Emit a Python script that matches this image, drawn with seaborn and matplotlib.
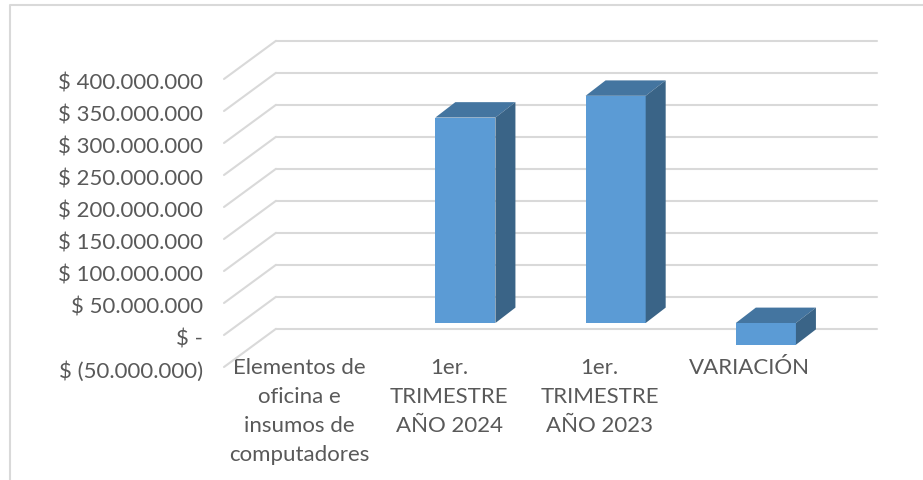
import numpy as np
import pandas as pd
import matplotlib
matplotlib.use("Agg")
import matplotlib.pyplot as plt
from matplotlib.patches import Polygon
from matplotlib.lines import Line2D
from matplotlib.transforms import Affine2D, IdentityTransform
import seaborn as sns

# Spending per category, in pesos
categories = ["Elementos de\noficina e\ninsumos de\ncomputadores",
              "1er.\nTRIMESTRE\nAÑO 2024",
              "1er.\nTRIMESTRE\nAÑO 2023",
              "VARIACIÓN"]
values = [np.nan, 321_000_000, 355_000_000, -34_000_000]
tick_values = [-50_000_000, 0, 50_000_000, 100_000_000, 150_000_000,
               200_000_000, 250_000_000, 300_000_000, 350_000_000, 400_000_000]
tick_labels = ["$ (50.000.000)", "$ -", "$ 50.000.000", "$ 100.000.000", "$ 150.000.000",
               "$ 200.000.000", "$ 250.000.000", "$ 300.000.000", "$ 350.000.000", "$ 400.000.000"]

W, H = 923, 481
GRID = "#D9D9D9"
TEXT = "#595959"
FRONT = "#5B9BD5"
TOP = "#4475A0"
SIDE = "#3A6487"
FONT_SIZE = 16

sns.set_theme(style="white")
plt.rcParams["font.family"] = ["Lato", "DejaVu Sans"]

fig = plt.figure(figsize=(W / 100, H / 100), dpi=100, facecolor="white")
# axes rectangle is the front plane of the 3D box, in pixels from the top-left corner
L, R, T, B = 224, 825, 80, 368
ax = fig.add_axes([L / W, 1 - B / H, (R - L) / W, (B - T) / H])
ax.patch.set_alpha(0)

data = pd.DataFrame({"categoria": categories, "valor": values})
sns.barplot(data=data, x="categoria", y="valor", order=categories, color=FRONT,
            saturation=1, width=0.4, linewidth=0, ax=ax, zorder=3)
ax.set_xlim(-0.5, 3.5)
ax.set_ylim(-50_000_000, 400_000_000)
ax.set_xlabel("")
ax.set_ylabel("")
sns.despine(ax=ax, left=True, bottom=True)

ax.set_yticks(tick_values, tick_labels)
ax.tick_params(axis="y", length=0, pad=15, labelsize=FONT_SIZE, labelcolor=TEXT)
ax.tick_params(axis="x", length=0, pad=-7.5, labelsize=FONT_SIZE, labelcolor=TEXT)
for lab in ax.get_xticklabels():
    lab.set_linespacing(1.57)
# nudge the value labels slightly below their gridline ends
for lab in ax.get_yticklabels():
    lab.set_transform(lab.get_transform() + Affine2D().translate(0, -1.5))

# box depth in screen pixels (y grows upward in display space)
WALL = (52, 38.2)
BAR_GAP = (16, 12.0)
BAR_DEPTH = (20, 15.4)

fig.canvas.draw()
back_wall = ax.transData + Affine2D().translate(*WALL)
bar_shift = ax.transData + Affine2D().translate(*BAR_GAP)

for v in tick_values:
    ax.plot([-0.5, 3.5], [v, v], color=GRID, lw=1.5, transform=back_wall,
            clip_on=False, zorder=1)
    x0, y0 = ax.transData.transform((-0.5, v))
    ax.add_line(Line2D([x0, x0 + WALL[0]], [y0, y0 + WALL[1]], color=GRID, lw=1.5,
                       transform=IdentityTransform(), clip_on=False, zorder=1))

# front faces come from the bar containers; top and side faces are extruded from them
dx, dy = BAR_DEPTH
for bar in ax.patches:
    if not np.isfinite(bar.get_height()):
        continue
    bar.set_transform(bar_shift)
    bar.set_clip_on(False)
    x = bar.get_x()
    w = bar.get_width()
    y0 = bar.get_y()
    y1 = y0 + bar.get_height()
    upper, lower = max(y0, y1), min(y0, y1)
    (xl, yt), (xr, yb) = bar_shift.transform([(x, upper), (x + w, lower)])
    top_face = [(xl, yt), (xr, yt), (xr + dx, yt + dy), (xl + dx, yt + dy)]
    side_face = [(xr, yt), (xr + dx, yt + dy), (xr + dx, yb + dy), (xr, yb)]
    ax.add_patch(Polygon(top_face, closed=True, facecolor=TOP, edgecolor="none",
                         transform=IdentityTransform(), clip_on=False, zorder=3))
    ax.add_patch(Polygon(side_face, closed=True, facecolor=SIDE, edgecolor="none",
                         transform=IdentityTransform(), clip_on=False, zorder=3))

# chart area frame: only its top and left edges fall inside the image
frame_x, frame_y = 9.5 / W, 1 - 5.7 / H
fig.add_artist(Line2D([frame_x, frame_x, 1.0], [0.0, frame_y, frame_y],
                      transform=fig.transFigure, color=GRID, lw=1.5))

fig.savefig("out.png", dpi=100)
